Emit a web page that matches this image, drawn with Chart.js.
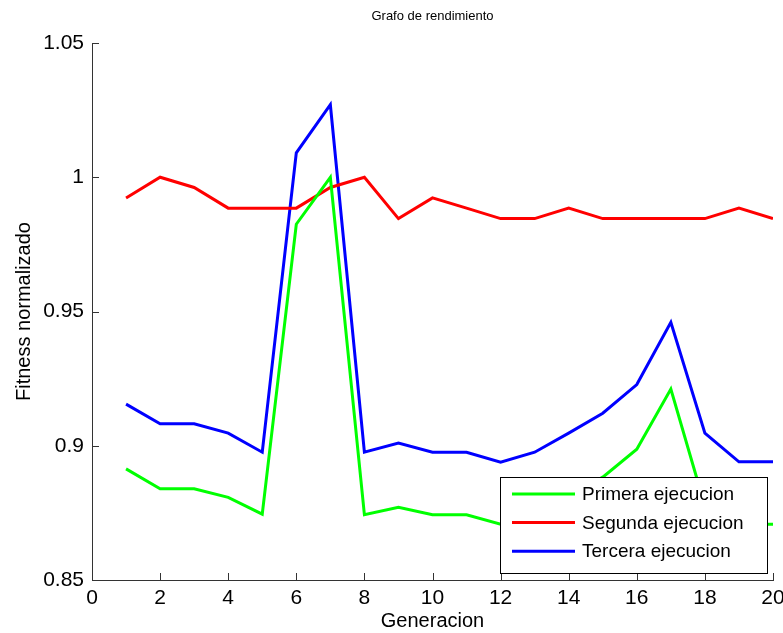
<!DOCTYPE html>
<html>
<head>
<meta charset="utf-8">
<script src="https://cdn.jsdelivr.net/npm/chart.js@4"></script>
<style>
  html, body { margin: 0; padding: 0; background: #fff; }
  #wrap { width: 783px; height: 633px; }
</style>
</head>
<body>
<div id="wrap"><canvas id="grafo" width="783" height="633"></canvas></div>
<script>
// Datos
const generaciones = [1, 2, 3, 4, 5, 6, 7, 8, 9, 10, 11, 12, 13, 14, 15, 16, 17, 18, 19, 20];
const primera = [0.8914, 0.8840, 0.8840, 0.8808, 0.8745, 0.9825, 1.0000, 0.8743, 0.8771, 0.8743,
                 0.8743, 0.8708, 0.8745, 0.8808, 0.8883, 0.8987, 0.9211, 0.8776, 0.8708, 0.8708];
const segunda = [0.9923, 1.0000, 0.9962, 0.9885, 0.9885, 0.9885, 0.9962, 1.0000, 0.9846, 0.9923,
                 0.9885, 0.9846, 0.9846, 0.9885, 0.9846, 0.9846, 0.9846, 0.9846, 0.9885, 0.9846];
const tercera = [0.9155, 0.9082, 0.9082, 0.9047, 0.8976, 1.0091, 1.0270, 0.8976, 0.9010, 0.8976,
                 0.8976, 0.8939, 0.8976, 0.9047, 0.9121, 0.9228, 0.9460, 0.9047, 0.8940, 0.8940];
const etiquetas = ['Primera ejecucion', 'Segunda ejecucion', 'Tercera ejecucion'];
const colores = ['#00ff00', '#ff0000', '#0000ff'];

const FONT = '"Liberation Sans", Arial, sans-serif';

function serie(values) {
    return values.map((v, i) => ({ x: generaciones[i], y: v }));
}

// ticks hacia dentro, estilo matlab
const inwardTicks = {
    id: 'inwardTicks',
    afterDraw(chart) {
        const { ctx, chartArea, scales } = chart;
        ctx.save();
        ctx.strokeStyle = '#333';
        ctx.lineWidth = 1;
        scales.x.ticks.forEach(t => {
            const px = Math.round(scales.x.getPixelForValue(t.value)) + 0.5;
            ctx.beginPath();
            ctx.moveTo(px, chartArea.bottom);
            ctx.lineTo(px, chartArea.bottom - 7);
            ctx.stroke();
        });
        scales.y.ticks.forEach(t => {
            const py = Math.round(scales.y.getPixelForValue(t.value)) + 0.5;
            ctx.beginPath();
            ctx.moveTo(chartArea.left, py);
            ctx.lineTo(chartArea.left + 7, py);
            ctx.stroke();
        });
        ctx.restore();
    }
};

// leyenda dentro del area, abajo a la derecha
const legendBox = {
    id: 'legendBox',
    afterDraw(chart) {
        const { ctx } = chart;
        const left = 500, top = 477, right = 767, bottom = 573;
        ctx.save();
        ctx.fillStyle = '#fff';
        ctx.fillRect(left, top, right - left, bottom - top);
        ctx.strokeStyle = '#000';
        ctx.lineWidth = 1;
        ctx.strokeRect(left + 0.5, top + 0.5, right - left, bottom - top);
        ctx.font = '19px ' + FONT;
        ctx.textBaseline = 'middle';
        chart.data.datasets.forEach((ds, i) => {
            const y = 494 + i * 28.6;
            ctx.strokeStyle = ds.borderColor;
            ctx.lineWidth = 3;
            ctx.beginPath();
            ctx.moveTo(512, y);
            ctx.lineTo(575, y);
            ctx.stroke();
            ctx.fillStyle = '#000';
            ctx.fillText(ds.label, 582, y + 1);
        });
        ctx.restore();
    }
};

const chart = new Chart(document.getElementById('grafo'), {
    type: 'line',
    data: {
        datasets: [primera, segunda, tercera].map((vals, i) => ({
            label: etiquetas[i],
            data: serie(vals),
            borderColor: colores[i],
            backgroundColor: colores[i],
            borderWidth: 3,
            pointRadius: 0,
            tension: 0,
            fill: false
        }))
    },
    options: {
        responsive: false,
        animation: false,
        layout: { padding: { left: 0, right: 10, top: 0, bottom: 0 } },
        plugins: {
            legend: { display: false },
            tooltip: { enabled: false },
            title: {
                display: true,
                text: 'Grafo de rendimiento',
                fullSize: false,
                color: '#000',
                font: { family: FONT, size: 13, weight: 'normal' },
                padding: { top: 9, bottom: 18.4 }
            }
        },
        scales: {
            x: {
                type: 'linear',
                min: 0,
                max: 20,
                ticks: { stepSize: 2, color: '#000', padding: 6, font: { family: FONT, size: 21 } },
                grid: { display: false, drawTicks: false },
                border: { display: true, color: '#333', width: 1 },
                title: {
                    display: true,
                    text: 'Generacion',
                    color: '#000',
                    font: { family: FONT, size: 20 },
                    padding: { top: 0, bottom: 0 }
                },
                afterFit(scale) {
                    scale.height = 53;
                    scale.paddingLeft = 0;
                    scale.paddingRight = 0;
                }
            },
            y: {
                min: 0.85,
                max: 1.05,
                ticks: {
                    stepSize: 0.05,
                    color: '#000',
                    padding: 8,
                    font: { family: FONT, size: 21 },
                    callback: v => String(Number(v.toFixed(2)))
                },
                grid: { display: false, drawTicks: false },
                border: { display: true, color: '#333', width: 1 },
                title: {
                    display: true,
                    text: 'Fitness normalizado',
                    color: '#000',
                    font: { family: FONT, size: 20 },
                    padding: { top: 12, bottom: 12 }
                },
                afterFit(scale) {
                    scale.width = 92;
                    scale.paddingTop = 0;
                    scale.paddingBottom = 0;
                }
            }
        }
    },
    plugins: [inwardTicks, legendBox]
});
</script>
</body>
</html>
